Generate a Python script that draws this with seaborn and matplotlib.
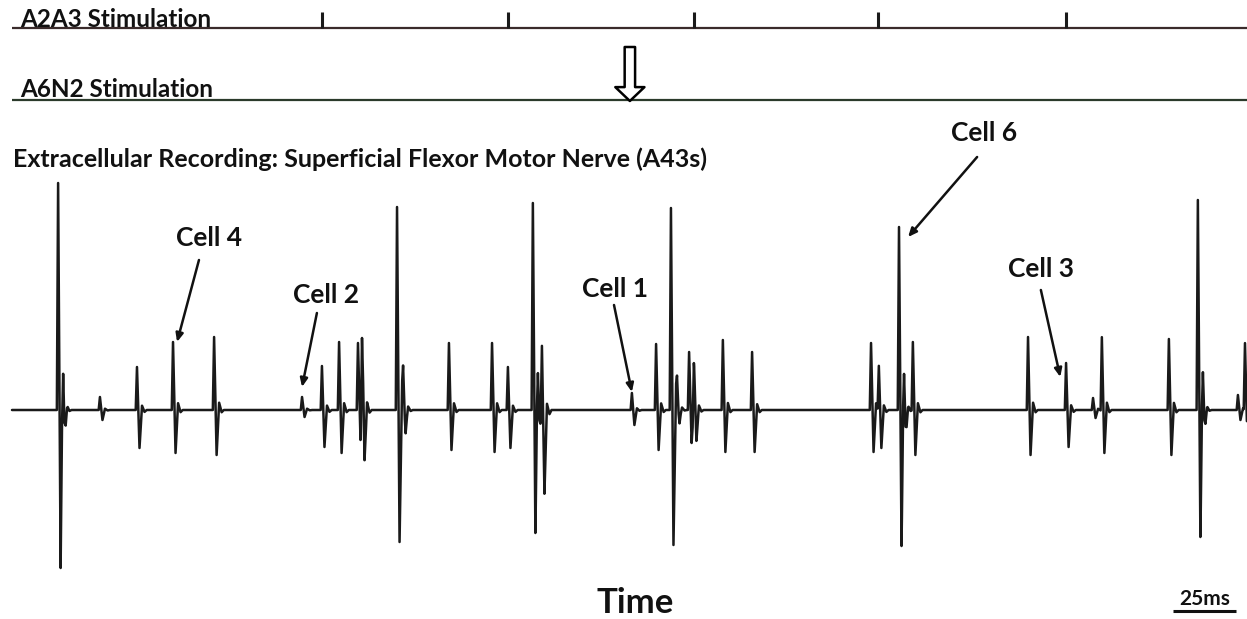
import numpy as np
import pandas as pd
import matplotlib
matplotlib.use('Agg')
import matplotlib.pyplot as plt
import seaborn as sns

# spikes: time (ms), peak above baseline, trough below baseline (a.u.)
spike_t = [18.3, 19.8, 34.9, 49.6, 63.9, 80.2, 115.1, 123.0, 129.8, 137.3, 138.9,
           152.8, 155.2, 173.4, 190.5, 196.8, 206.7, 208.3, 210.3, 246.0, 255.6,
           261.5, 263.9, 268.7, 270.6, 282.1, 293.7, 340.9, 344.0, 352.0, 353.6,
           357.5, 403.2, 418.3, 429.0, 432.5, 459.1, 470.6, 472.2, 486.5, 489.3]
spike_up = [227, 47, 13, 43, 68, 73, 13, 44, 68, 67, 80,
            203, 35, 67, 67, 43, 207, 37, 62, 17, 66,
            202, 25, 58, 45, 70, 58, 67, 46, 183, 43,
            68, 73, 47, 12, 73, 71, 210, 38, 15, 67]
spike_down = [158, 20, 10, 38, 43, 45, 7, 37, 43, 30, 52,
              132, 20, 40, 42, 38, 123, 15, 83, 15, 40,
              135, 10, 33, 30, 42, 42, 42, 38, 136, 20,
              45, 45, 37, 8, 43, 45, 127, 15, 10, 37]

a2a3_times = [123.0, 196.8, 270.6, 343.7, 418.3]   # stimulation ticks (ms)
a6n2_time = 245.2                                   # single stimulation (ms)

cell_names = ['Cell 4', 'Cell 2', 'Cell 1', 'Cell 6', 'Cell 3']

t_end = 490.1
scale_ms = 25

# ---- build the trace
t = np.arange(0, t_end, 0.05)
tmpl_t = np.array([-0.5, 0.0, 1.0, 2.0, 3.0, 3.8])
v = np.zeros_like(t)
for ts, u, d in zip(spike_t, spike_up, spike_down):
    tmpl_v = np.array([0, u, -d, 0.1 * u, -0.05 * d, 0])
    v += np.interp(t, ts + tmpl_t, tmpl_v, left=0, right=0)
trace = pd.DataFrame({'time': t, 'signal': v})

sns.set_style('white')
plt.rcParams['font.family'] = ['Lato', 'DejaVu Sans']

fig = plt.figure(figsize=(12.47, 6.19), dpi=100)
ax = fig.add_axes([0, 0, 1, 1])
ax.set_xlim(-4.76, t_end)
ax.set_ylim(-209, 410)
ax.axis('off')

sns.lineplot(data=trace, x='time', y='signal', ax=ax, color='#1a1a1a',
             linewidth=1.8, sort=False, estimator=None)

# stimulation rows
y_a2 = 382
y_a6 = 310
ax.hlines(y_a2, 0, t_end, color='#3a2b2b', lw=1.6)
ax.vlines(a2a3_times, y_a2, y_a2 + 16, color='#1a1a1a', lw=2.2)
ax.hlines(y_a6, 0, t_end, color='#2b3a2b', lw=1.6)
ax.annotate('', xy=(a6n2_time, y_a6 - 1), xytext=(a6n2_time, y_a6 + 53),
            arrowprops=dict(arrowstyle='simple,head_width=2.1,head_length=1.0,tail_width=0.75',
                            fc='white', ec='black', lw=1.8, shrinkA=0, shrinkB=0))

tkw = dict(fontweight='bold', color='#111111')
ax.text(3.2, y_a2 + 1, 'A2A3 Stimulation', fontsize=17.5, va='baseline', **tkw)
ax.text(3.2, y_a6 + 3, 'A6N2 Stimulation', fontsize=17.5, va='baseline', **tkw)
ax.text(0.4, 243, 'Extracellular Recording: Superficial Flexor Motor Nerve (A43s)',
        fontsize=18, va='baseline', **tkw)

# cell annotations: label centre, arrow tail, arrow tip (ms, a.u.)
lab_xy = [(78.2, 172), (124.6, 115), (239.3, 121), (385.7, 277), (408.3, 141)]
tail_xy = [(74.2, 150), (121.0, 97), (238.9, 105), (383.0, 253), (408.3, 120)]
tip_xy = [(65.5, 68), (115.1, 23), (246.0, 18), (355.6, 173), (416.0, 33)]
for name, lxy, sxy, exy in zip(cell_names, lab_xy, tail_xy, tip_xy):
    ax.text(lxy[0], lxy[1], name, fontsize=19, ha='center', va='center', **tkw)
    ax.annotate('', xy=exy, xytext=sxy,
                arrowprops=dict(arrowstyle='-|>,head_length=0.5,head_width=0.22',
                                color='#111111', lw=1.8, shrinkA=0, shrinkB=0))

ax.text(247.2, -193, 'Time', fontsize=25, ha='center', va='center', **tkw)

# scale bar
ax.hlines(-201, 460.7, 460.7 + scale_ms, color='#111111', lw=2.2)
ax.text(460.7 + scale_ms / 2, -195, '%dms' % scale_ms, fontsize=15, ha='center',
        va='baseline', **tkw)

fig.savefig('out.png', dpi=100)
